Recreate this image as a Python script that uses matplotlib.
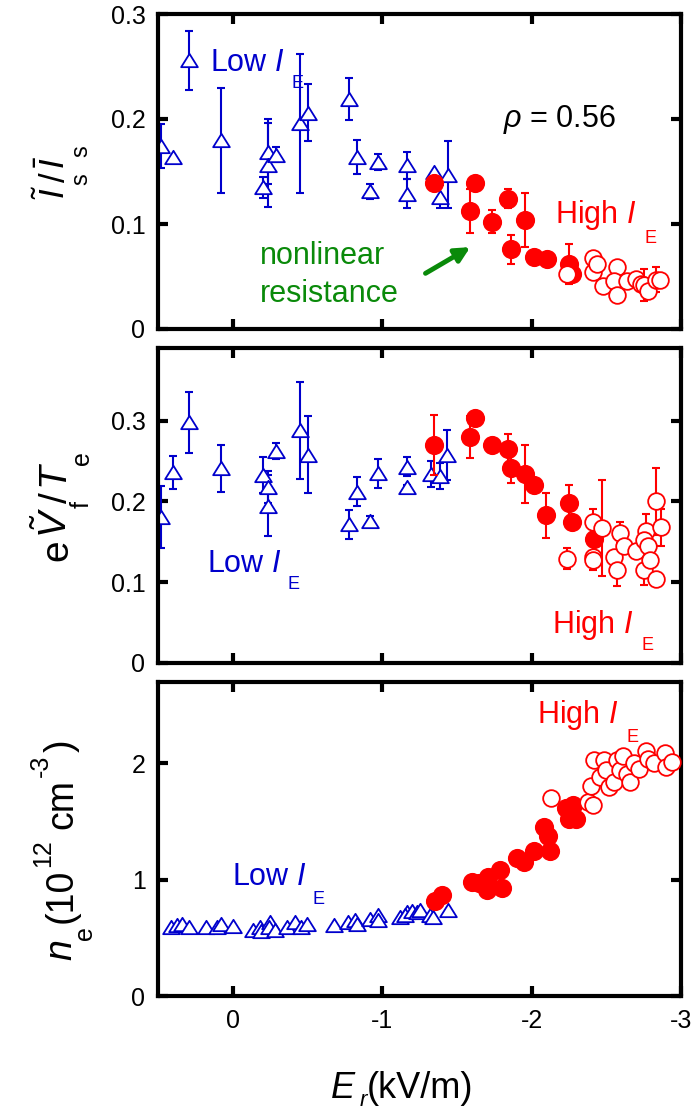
import matplotlib
matplotlib.use('Agg')
import matplotlib.pyplot as plt
import numpy as np
from matplotlib.path import Path

plt.rcParams['font.family'] = ['Liberation Sans', 'DejaVu Sans']
plt.rcParams['mathtext.fontset'] = 'custom'
plt.rcParams['mathtext.rm'] = 'Liberation Sans'
plt.rcParams['mathtext.it'] = 'Liberation Sans:italic'
plt.rcParams['mathtext.bf'] = 'Liberation Sans:bold'

BLUE = '#0000cc'
RED = '#ff0000'
GREEN = '#0a8a0a'

# ---- panel 1: I~s / I-s ----
top_low_x = [0.48, 0.40, 0.29, 0.076, -0.20, -0.237, -0.237, -0.29, -0.45, -0.505,
             -0.78, -0.83, -0.92, -0.97, -1.165, -1.165, -1.344, -1.39, -1.438]
top_low_y = [0.174, 0.164, 0.256, 0.180, 0.135, 0.169, 0.156, 0.166, 0.196, 0.206,
             0.219, 0.164, 0.131, 0.159, 0.156, 0.129, 0.150, 0.126, 0.147]
top_low_err = [0.021, 0, 0.028, 0.050, 0.010, 0.031, 0.040, 0.007, 0.066, 0.027,
               0.020, 0.016, 0.007, 0.008, 0.013, 0.014, 0, 0.011, 0.032]

top_hi_x = [-1.344, -1.624, -1.59, -1.736, -1.84, -1.953, -1.86, -2.015, -2.10, -2.25, -2.27]
top_hi_y = [0.139, 0.139, 0.112, 0.102, 0.124, 0.104, 0.076, 0.069, 0.067, 0.062, 0.052]
top_hi_err = [0, 0, 0.021, 0.011, 0.009, 0.026, 0.014, 0, 0, 0.019, 0]

top_open_x = [-2.24, -2.41, -2.41, -2.44, -2.48, -2.575, -2.55, -2.57, -2.64, -2.70,
              -2.73, -2.75, -2.78, -2.83, -2.86]
top_open_y = [0.052, 0.068, 0.054, 0.062, 0.041, 0.059, 0.046, 0.032, 0.046, 0.048,
              0.043, 0.042, 0.036, 0.047, 0.047]
top_open_err = [0, 0, 0, 0, 0, 0, 0, 0, 0, 0, 0, 0.015, 0, 0.012, 0]

# ---- panel 2: eV~f / Te ----
mid_low_x = [0.48, 0.40, 0.29, 0.076, -0.20, -0.237, -0.237, -0.29, -0.45, -0.505,
             -0.78, -0.83, -0.92, -0.97, -1.165, -1.165, -1.33, -1.39, -1.434]
mid_low_y = [0.181, 0.236, 0.298, 0.241, 0.233, 0.218, 0.195, 0.262, 0.288, 0.258,
             0.172, 0.212, 0.176, 0.235, 0.243, 0.218, 0.234, 0.232, 0.257]
mid_low_err = [0.038, 0.020, 0.038, 0.029, 0.022, 0.020, 0.038, 0.010, 0.060, 0.048,
               0.018, 0.018, 0.006, 0.018, 0.012, 0.003, 0.016, 0.016, 0.031]

mid_hi_x = [-1.344, -1.59, -1.624, -1.736, -1.84, -1.86, -1.953, -2.015, -2.094, -2.25, -2.27, -2.42]
mid_hi_y = [0.270, 0.280, 0.303, 0.270, 0.265, 0.241, 0.234, 0.221, 0.183, 0.198, 0.174, 0.153]
mid_hi_err = [0.037, 0.026, 0, 0, 0.018, 0.018, 0.036, 0, 0.028, 0.023, 0, 0]

mid_open_x = [-2.24, -2.41, -2.41, -2.41, -2.47, -2.55, -2.59, -2.575, -2.62, -2.70,
              -2.75, -2.765, -2.75, -2.78, -2.79, -2.83, -2.83, -2.865]
mid_open_y = [0.129, 0.174, 0.131, 0.127, 0.167, 0.131, 0.161, 0.115, 0.145, 0.139,
              0.115, 0.164, 0.152, 0.145, 0.127, 0.104, 0.200, 0.168]
mid_open_err = [0.013, 0.017, 0.016, 0, 0.059, 0, 0.013, 0.020, 0, 0,
                0.018, 0.020, 0, 0, 0, 0, 0.041, 0.023]

# ---- panel 3: ne ----
bot_low_x = [0.41, 0.37, 0.34, 0.29, 0.18, 0.105, 0.077, 0.0, -0.136, -0.18, -0.19,
             -0.25, -0.24, -0.28, -0.36, -0.415, -0.46, -0.50, -0.68, -0.77, -0.82,
             -0.83, -0.92, -0.975, -0.975, -1.12, -1.165, -1.155, -1.20, -1.23,
             -1.255, -1.32, -1.34, -1.44]
bot_low_y = [0.59, 0.61, 0.62, 0.59, 0.59, 0.59, 0.62, 0.60, 0.57, 0.59, 0.56,
             0.64, 0.59, 0.57, 0.59, 0.64, 0.59, 0.62, 0.61, 0.64, 0.65,
             0.62, 0.66, 0.70, 0.65, 0.68, 0.72, 0.70, 0.73, 0.72,
             0.74, 0.70, 0.68, 0.74]

bot_hi_x = [-1.354, -1.40, -1.60, -1.645, -1.705, -1.71, -1.79, -1.80, -1.90, -1.95,
            -2.015, -2.08, -2.11, -2.12, -2.23, -2.28, -2.25, -2.30]
bot_hi_y = [0.82, 0.87, 0.98, 0.97, 0.91, 1.02, 1.08, 0.93, 1.19, 1.15,
            1.25, 1.45, 1.38, 1.25, 1.62, 1.64, 1.52, 1.52]

bot_open_x = [-2.13, -2.38, -2.41, -2.40, -2.42, -2.46, -2.485, -2.50, -2.52, -2.55,
              -2.575, -2.59, -2.61, -2.64, -2.66, -2.685, -2.72, -2.765, -2.78,
              -2.82, -2.89, -2.90, -2.94]
bot_open_y = [1.70, 1.67, 1.64, 1.81, 2.03, 1.88, 2.03, 1.94, 1.80, 1.84,
              2.03, 1.94, 2.06, 1.91, 1.84, 2.00, 1.95, 2.11, 2.04,
              2.00, 2.09, 1.97, 2.01]

# flatter triangle than the default '^'
tri = Path([(-1, -0.8), (1, -0.8), (0, 0.8), (0, 0)], closed=True)


def draw_set(ax, x, y, err, color, marker, face, ms, z):
    x = np.array(x)
    y = np.array(y)
    if err is not None:
        err = np.array(err)
        m = err > 0
        ax.errorbar(x[m], y[m], yerr=err[m], fmt='none', ecolor=color,
                    elinewidth=1.5, capsize=3, capthick=1.5, zorder=z)
    ax.plot(x, y, linestyle='none', marker=marker, ms=ms, mfc=face, mec=color,
            mew=1.3, zorder=z + 0.5)


def style_axes(ax, ylim, yticks, ylabels, xlabels):
    ax.set_xlim(0.5, -3)
    ax.set_ylim(*ylim)
    ax.set_xticks([0, -1, -2, -3])
    ax.set_yticks(yticks)
    ax.set_yticklabels(ylabels)
    if xlabels:
        ax.set_xticklabels(['0', '-1', '-2', '-3'])
    else:
        ax.set_xticklabels([])
    ax.tick_params(direction='in', top=True, right=True, length=7, width=3,
                   labelsize=18, pad=9)
    for s in ax.spines.values():
        s.set_linewidth(3)


def sub_label(ax, x, y, main, sub, dx, dy, color, size=22, subsize=13):
    ax.text(x, y, main, color=color, fontsize=size, transform=ax.transAxes,
            ha='left', va='baseline')
    ax.text(dx, dy, sub, color=color, fontsize=subsize, transform=ax.transAxes,
            ha='left', va='baseline')


W, H = 697, 1111
fig = plt.figure(figsize=(W / 100, H / 100), dpi=100)
renderer = fig.canvas.get_renderer()
ax1 = fig.add_axes([158 / W, 1 - 329 / H, 523 / W, 315 / H])
ax2 = fig.add_axes([158 / W, 1 - 663 / H, 523 / W, 315 / H])
ax3 = fig.add_axes([158 / W, 1 - 996 / H, 523 / W, 314 / H])

# panel 1
draw_set(ax1, top_low_x, top_low_y, top_low_err, BLUE, tri, 'white', 12, 2)
draw_set(ax1, top_hi_x, top_hi_y, top_hi_err, RED, 'o', RED, 12.5, 4)
draw_set(ax1, top_open_x, top_open_y, top_open_err, RED, 'o', 'white', 12, 6)
style_axes(ax1, (0, 0.3), [0, 0.1, 0.2, 0.3], ['0', '0.1', '0.2', '0.3'], False)
sub_label(ax1, 0.099, 0.820, 'Low $I$', 'E', 0.256, 0.764, BLUE)
sub_label(ax1, 0.759, 0.336, 'High $I$', 'E', 0.931, 0.272, RED)
ax1.text(0.660, 0.642, r'$\rho$ = 0.56', fontsize=22, color='black',
         transform=ax1.transAxes, ha='left', va='baseline')
ax1.text(0.195, 0.087, 'nonlinear\nresistance', fontsize=22, color=GREEN,
         transform=ax1.transAxes, ha='left', va='baseline', linespacing=1.32)
ax1.annotate('', xy=(-1.59, 0.078), xytext=(-1.29, 0.053),
             arrowprops=dict(arrowstyle='-|>', color=GREEN, lw=3.5,
                             mutation_scale=22, shrinkA=0, shrinkB=0))

# panel 2
draw_set(ax2, mid_low_x, mid_low_y, mid_low_err, BLUE, tri, 'white', 12, 2)
draw_set(ax2, mid_hi_x, mid_hi_y, mid_hi_err, RED, 'o', RED, 12.5, 4)
draw_set(ax2, mid_open_x, mid_open_y, mid_open_err, RED, 'o', 'white', 12, 6)
style_axes(ax2, (0, 0.39), [0, 0.1, 0.2, 0.3], ['0', '0.1', '0.2', '0.3'], False)
sub_label(ax2, 0.094, 0.290, 'Low $I$', 'E', 0.247, 0.234, BLUE)
sub_label(ax2, 0.753, 0.096, 'High $I$', 'E', 0.925, 0.041, RED)

# panel 3
draw_set(ax3, bot_low_x, bot_low_y, None, BLUE, tri, 'white', 12, 2)
draw_set(ax3, bot_hi_x, bot_hi_y, None, RED, 'o', RED, 12.5, 4)
draw_set(ax3, bot_open_x, bot_open_y, None, RED, 'o', 'white', 12, 6)
style_axes(ax3, (0, 2.7), [0, 1, 2], ['0', '1', '2'], True)
sub_label(ax3, 0.1415, 0.353, 'Low $I$', 'E', 0.296, 0.292, BLUE)
sub_label(ax3, 0.725, 0.868, 'High $I$', 'E', 0.896, 0.810, RED)


# axis labels are laid out piece by piece (the subscripts sit low and late,
# like in the original figure); pieces = (text, size, shift, gap) in pixels
def chain(pieces, base, center, rotated):
    items = []
    pos = 0
    for s, size, shift, gap in pieces:
        t = fig.text(0, 0, s, fontsize=size, rotation=90 if rotated else 0,
                     rotation_mode='anchor', ha='left', va='baseline')
        bb = t.get_window_extent(renderer)
        pos += gap
        items.append((t, pos, shift))
        pos += bb.height if rotated else bb.width
    start = center + pos / 2 if rotated else center - pos / 2
    for t, p, shift in items:
        if rotated:
            t.set_position(((base + shift) / W, 1 - (start - p) / H))
        else:
            t.set_position(((start + p) / W, 1 - (base + shift) / H))


chain([(r'$\tilde{I}$', 25, 0, 0), ('s', 17, 22, 0), ('/', 25, 0, -9),
       (r'$\bar{I}$', 25, 0, 3), ('s', 17, 22, 0)], 65, 172, True)
chain([('e', 28, 0, 0), (r'$\tilde{V}$', 28, 0, 1), ('f', 18, 22, 0),
       ('/', 28, 0, -2), (r'$T$', 28, 0, 2), ('e', 18, 22, -3)], 67, 506, True)
chain([(r'$n$', 27, 0, 0), ('e', 18, 20, 0), ('(10', 27, 0, 3),
       ('12', 18, -22, 2), ('cm', 27, 0, 10), ('-3', 18, -24, 2),
       (')', 27, 0, 3)], 72, 850, True)
chain([(r'$E$', 26, 0, 0), (r'$r$', 16, 8, 2), ('(kV/m)', 26, 0, -2)],
      1098, 402, False)

fig.savefig('out.png', dpi=100)
